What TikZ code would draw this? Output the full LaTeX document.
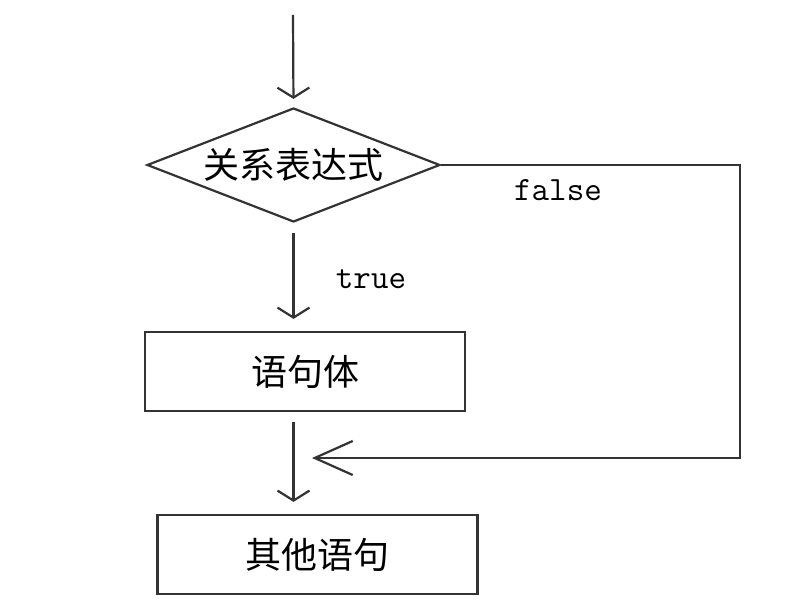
\documentclass[tikz,border=0pt]{standalone}
\usepackage{fontspec}
\newfontfamily\cjk{Noto Sans CJK SC}
\usetikzlibrary{shapes.geometric, arrows.meta}
\definecolor{ink}{HTML}{333333}

\begin{document}
\begin{tikzpicture}[x=0.5pt, y=-0.5pt, line width=1.1pt, ink,
    box/.style={rectangle, draw, minimum width=160pt, minimum height=39.5pt, font=\cjk\fontsize{18}{20}\selectfont, text=black},
    test/.style={diamond, draw, aspect=2.5, inner sep=0pt, minimum width=146.5pt, minimum height=57pt, font=\cjk\fontsize{18}{20}\selectfont, text=black},
    lbl/.style={font=\ttfamily\fontsize{17}{18}\selectfont, text=black},
    flow/.style={-{Straight Barb[length=5pt, width=16pt]}, shorten <=5pt, shorten >=6pt},
    back/.style={-{Straight Barb[length=19pt, width=17pt]}}]
    \useasboundingbox (0,0) rectangle (793,614);

		\coordinate (start) at (293,15);
		\node[test] (cond) at (293.5,165) {关系表达式};
		\node[box] (body) at (305,371.5) {语句体};
		\node[box] (next) at (317.5,554.5) {其他语句};
		\coordinate (corner) at (740,458);
		\coordinate (join) at (312,458);

		\node[lbl] (truelbl) at (371,279) {true};
		\node[lbl] (falselbl) at (558,190) {false};

		\draw[flow, shorten <=0pt, shorten >=4pt] (start) -- (cond.north);
		\draw[flow] (cond.south) -- (cond.south |- body.north);
		\draw[flow] (cond.south |- body.south) -- (cond.south |- next.north);
		\draw[back] (cond.east) -| (corner) -- (join);
	\end{tikzpicture}
\end{document}
